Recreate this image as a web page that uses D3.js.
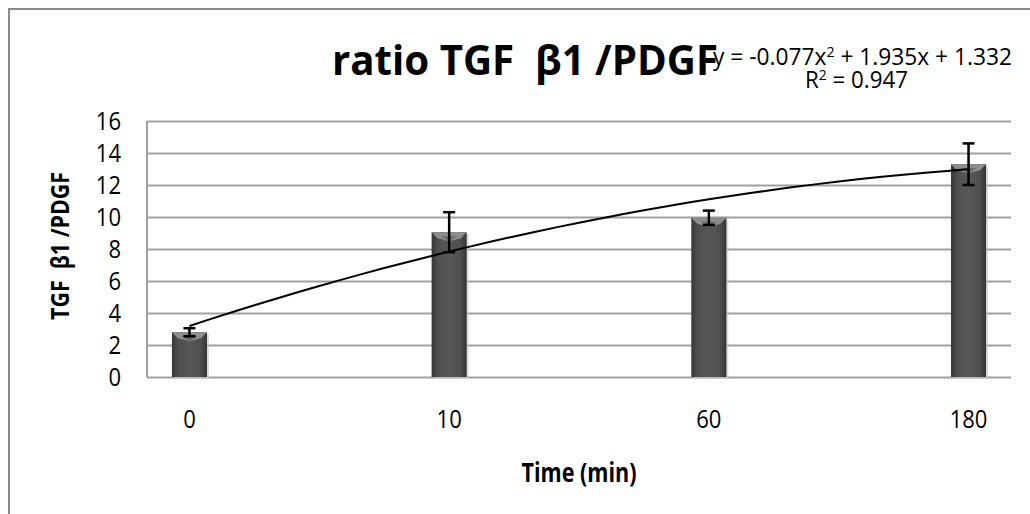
<!DOCTYPE html>
<html lang="en">
<head>
<meta charset="utf-8">
<title>ratio TGF β1 /PDGF</title>
<script src="https://cdn.jsdelivr.net/npm/d3@7"></script>
<style>
  body { margin: 0; background: white; }
  text { font-family: "Open Sans", sans-serif; white-space: pre; }
</style>
</head>
<body></body>
<script type="text/javascript">

//****************************************************************//
// Data

var categories = ["0", "10", "60", "180"];
var ratios = [2.8, 9.05, 9.95, 13.3];
var errors = [0.25, 1.25, 0.45, 1.3];
var yTicks = [0, 2, 4, 6, 8, 10, 12, 14, 16];
// trendline y = a x^2 + b x + c, x running 1..10 across the bars
var trendCoef = [-0.077, 1.935, 1.332];
var trendRange = [1, 10];

//****************************************************************//
// Canvas

var width = 1030, height = 514;
var plot = {left: 147, right: 1011, top: 121, bottom: 377};
var digitW = 12.6;   // narrow look of the original labels

var svg = d3.select("body").append("svg")
    .attr("width", width)
    .attr("height", height);

svg.append("rect")
    .attr("x", 9).attr("y", 9)
    .attr("width", 1040).attr("height", 520)
    .attr("fill", "white")
    .attr("stroke", "#8a8a8a")
    .attr("stroke-width", 2);

var defs = svg.append("defs");
var grad = defs.append("linearGradient").attr("id", "barGrad")
    .attr("x1", "0").attr("x2", "1").attr("y1", "0").attr("y2", "0");
grad.append("stop").attr("offset", "0").attr("stop-color", "#363636");
grad.append("stop").attr("offset", "0.18").attr("stop-color", "#4f4f4f");
grad.append("stop").attr("offset", "0.5").attr("stop-color", "#585858");
grad.append("stop").attr("offset", "0.82").attr("stop-color", "#4f4f4f");
grad.append("stop").attr("offset", "1").attr("stop-color", "#333");

//****************************************************************//
// Scales

var x = d3.scaleBand()
    .domain(categories)
    .range([plot.left, plot.right])
    .paddingInner(0.865)
    .paddingOuter(0.096);

var y = d3.scaleLinear()
    .domain([0, 16])
    .range([plot.bottom, plot.top]);

function cx(c) { return x(c) + x.bandwidth() / 2; }

var xt = d3.scaleLinear()
    .domain(trendRange)
    .range([cx(categories[0]), cx(categories[categories.length - 1])]);

//****************************************************************//
// Grid and axes

var grid = svg.append("g")
    .attr("transform", "translate(" + plot.left + ",0)")
    .call(d3.axisLeft(y).tickValues(yTicks).tickSize(-(plot.right - plot.left)).tickFormat(""));
grid.select(".domain").remove();
grid.selectAll("line").attr("stroke", "#a0a0a0").attr("stroke-width", 2);

svg.append("line")
    .attr("x1", plot.left).attr("x2", plot.left)
    .attr("y1", plot.top).attr("y2", plot.bottom)
    .attr("stroke", "#a0a0a0").attr("stroke-width", 2);

var yAxis = svg.append("g")
    .attr("transform", "translate(" + plot.left + ",0)")
    .call(d3.axisLeft(y).tickValues(yTicks).tickSize(0).tickPadding(26));
yAxis.select(".domain").remove();
yAxis.selectAll("text")
    .style("font-size", "26px")
    .attr("fill", "#000")
    .attr("textLength", function(d) { return String(d).length * digitW; })
    .attr("lengthAdjust", "spacingAndGlyphs");

var xAxis = svg.append("g")
    .attr("transform", "translate(0," + plot.bottom + ")")
    .call(d3.axisBottom(x).tickSize(0).tickPadding(33));
xAxis.select(".domain").remove();
xAxis.selectAll("text")
    .style("font-size", "26px")
    .attr("fill", "#000")
    .attr("textLength", function(d) { return d.length * digitW; })
    .attr("lengthAdjust", "spacingAndGlyphs");

//****************************************************************//
// Bars

var bars = svg.append("g").selectAll("g")
    .data(categories)
    .enter().append("g");

bars.append("rect")
    .attr("x", function(d) { return x(d) + 2; })
    .attr("y", function(d, i) { return y(ratios[i]) + 2; })
    .attr("width", x.bandwidth())
    .attr("height", function(d, i) { return y(0) - y(ratios[i]); })
    .attr("fill", "#c8c8c8")
    .attr("opacity", 0.6);

bars.append("rect")
    .attr("x", function(d) { return x(d); })
    .attr("y", function(d, i) { return y(ratios[i]); })
    .attr("width", x.bandwidth())
    .attr("height", function(d, i) { return y(0) - y(ratios[i]); })
    .attr("fill", "url(#barGrad)");

bars.append("path")
    .attr("d", function(d, i) {
        var x0 = x(d), x1 = x(d) + x.bandwidth(), t = y(ratios[i]), m = cx(d);
        return "M" + x0 + "," + t + "L" + x1 + "," + t + "L" + (x1 - 6) + "," + (t + 6) +
               "L" + m + "," + (t + 9) + "L" + (x0 + 6) + "," + (t + 6) + "Z";
    })
    .attr("fill", "#8e8e8e");

bars.append("path")
    .attr("d", function(d, i) {
        var t = y(ratios[i]), m = cx(d);
        return "M" + (m - 8) + "," + (t + 4) + "L" + (m + 8) + "," + (t + 4) + "L" + m + "," + (t + 9) + "Z";
    })
    .attr("fill", "#6a6a6a");

//****************************************************************//
// Trendline

var trendPts = d3.range(trendRange[0], trendRange[1] + 0.001, 0.25);
var line = d3.line()
    .x(function(d) { return xt(d); })
    .y(function(d) { return y(trendCoef[0] * d * d + trendCoef[1] * d + trendCoef[2]); })
    .curve(d3.curveMonotoneX);

svg.append("path")
    .datum(trendPts)
    .attr("d", line)
    .attr("fill", "none")
    .attr("stroke", "#000")
    .attr("stroke-width", 2);

//****************************************************************//
// Error bars

var eb = svg.append("g").selectAll("g")
    .data(categories)
    .enter().append("g")
    .attr("stroke", "#000")
    .attr("stroke-width", 2.5);

eb.append("line")
    .attr("x1", function(d) { return cx(d); })
    .attr("x2", function(d) { return cx(d); })
    .attr("y1", function(d, i) { return y(ratios[i] + errors[i]); })
    .attr("y2", function(d, i) { return y(ratios[i] - errors[i]); });

eb.append("line")
    .attr("x1", function(d) { return cx(d) - 6; })
    .attr("x2", function(d) { return cx(d) + 6; })
    .attr("y1", function(d, i) { return y(ratios[i] + errors[i]); })
    .attr("y2", function(d, i) { return y(ratios[i] + errors[i]); });

eb.append("line")
    .attr("x1", function(d) { return cx(d) - 6; })
    .attr("x2", function(d) { return cx(d) + 6; })
    .attr("y1", function(d, i) { return y(ratios[i] - errors[i]); })
    .attr("y2", function(d, i) { return y(ratios[i] - errors[i]); });

//****************************************************************//
// Titles

svg.append("text")
    .attr("x", 713).attr("y", 65)
    .attr("textLength", 299)
    .attr("lengthAdjust", "spacingAndGlyphs")
    .style("font-size", "24px")
    .html("y = -0.077x<tspan dy='-8' font-size='15'>2</tspan><tspan dy='8'> + 1.935x + 1.332</tspan>");

svg.append("text")
    .attr("x", 805).attr("y", 88)
    .attr("textLength", 103)
    .attr("lengthAdjust", "spacingAndGlyphs")
    .style("font-size", "24px")
    .html("R<tspan dy='-8' font-size='15'>2</tspan><tspan dy='8'> = 0.947</tspan>");

svg.append("text")
    .attr("x", 332).attr("y", 75)
    .attr("textLength", 386)
    .attr("lengthAdjust", "spacingAndGlyphs")
    .style("font-size", "41px")
    .style("font-weight", "bold")
    .text("ratio TGF  β1 /PDGF");

svg.append("text")
    .attr("x", 579).attr("y", 482)
    .attr("text-anchor", "middle")
    .attr("textLength", 115)
    .attr("lengthAdjust", "spacingAndGlyphs")
    .style("font-size", "26px")
    .style("font-weight", "bold")
    .text("Time (min)");

svg.append("text")
    .attr("transform", "translate(69,246) rotate(-90)")
    .attr("text-anchor", "middle")
    .attr("textLength", 148)
    .attr("lengthAdjust", "spacingAndGlyphs")
    .style("font-size", "25px")
    .style("font-weight", "bold")
    .text("TGF  β1 /PDGF");

</script>
</html>
